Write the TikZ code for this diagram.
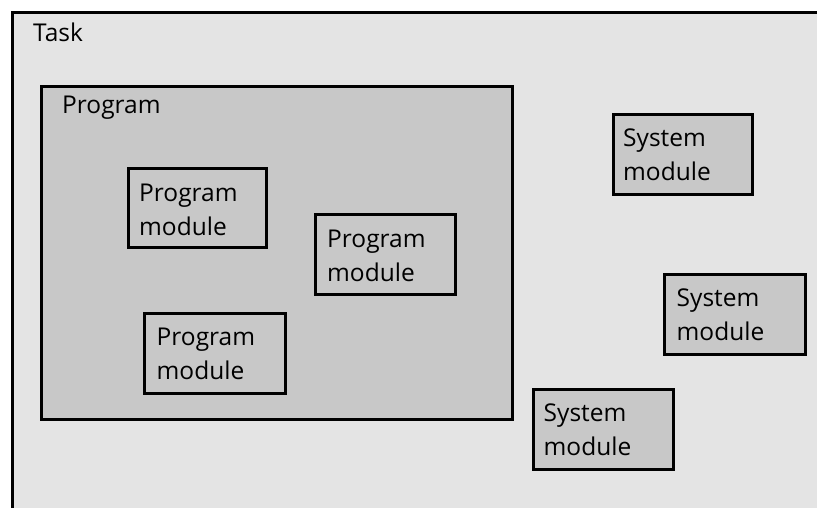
\documentclass[tikz,border=0pt]{standalone}
\usepackage{fontspec}
\setmainfont{Open Sans}
\definecolor{outerfill}{HTML}{E4E4E4}
\definecolor{innerfill}{HTML}{C8C8C8}
\tikzset{
  box/.style={draw=black, line width=3pt, fill=innerfill, inner sep=0pt, outer sep=0pt, anchor=north west},
  lbl/.style={anchor=base west, inner sep=0pt, align=left, font=\fontsize{24.5}{34}\selectfont, text width=150pt}
}
\begin{document}
\begin{tikzpicture}[x=1pt, y=-1pt]
\clip (0,0) rectangle (817,507);
\useasboundingbox (0,0) rectangle (817,507);
\node[box, fill=outerfill, minimum width=830pt, minimum height=520pt] (task) at (12.5,12.5) {};
\node[lbl] (tasklbl) at ([xshift=20.5pt, yshift=-28.5pt]task.north west) {Task};
\node[box, minimum width=471pt, minimum height=333pt] (prog) at (41,86) {};
\node[lbl] (proglbl) at ([xshift=21pt, yshift=-27pt]prog.north west) {Program};
\node[box, minimum width=138pt, minimum height=78.5pt] (pm1) at (128.5,168.5) {};
\node[lbl] (pm1lbl) at ([xshift=10.5pt, yshift=-32.5pt]pm1.north west) {Program\\module};
\node[box, minimum width=140pt, minimum height=79.5pt] (pm2) at (315,214.5) {};
\node[lbl] (pm2lbl) at ([xshift=12pt, yshift=-32.5pt]pm2.north west) {Program\\module};
\node[box, minimum width=140.5pt, minimum height=80pt] (pm3) at (144.5,313) {};
\node[lbl] (pm3lbl) at ([xshift=12pt, yshift=-32.5pt]pm3.north west) {Program\\module};
\node[box, minimum width=139pt, minimum height=79.5pt] (sm1) at (613,114.5) {};
\node[lbl] (sm1lbl) at ([xshift=10pt, yshift=-32pt]sm1.north west) {System\\module};
\node[box, minimum width=140.5pt, minimum height=79.5pt] (sm2) at (664.5,274.5) {};
\node[lbl] (sm2lbl) at ([xshift=12pt, yshift=-32pt]sm2.north west) {System\\module};
\node[box, minimum width=139.5pt, minimum height=80pt] (sm3) at (533.5,389) {};
\node[lbl] (sm3lbl) at ([xshift=10pt, yshift=-32pt]sm3.north west) {System\\module};
\end{tikzpicture}
\end{document}
